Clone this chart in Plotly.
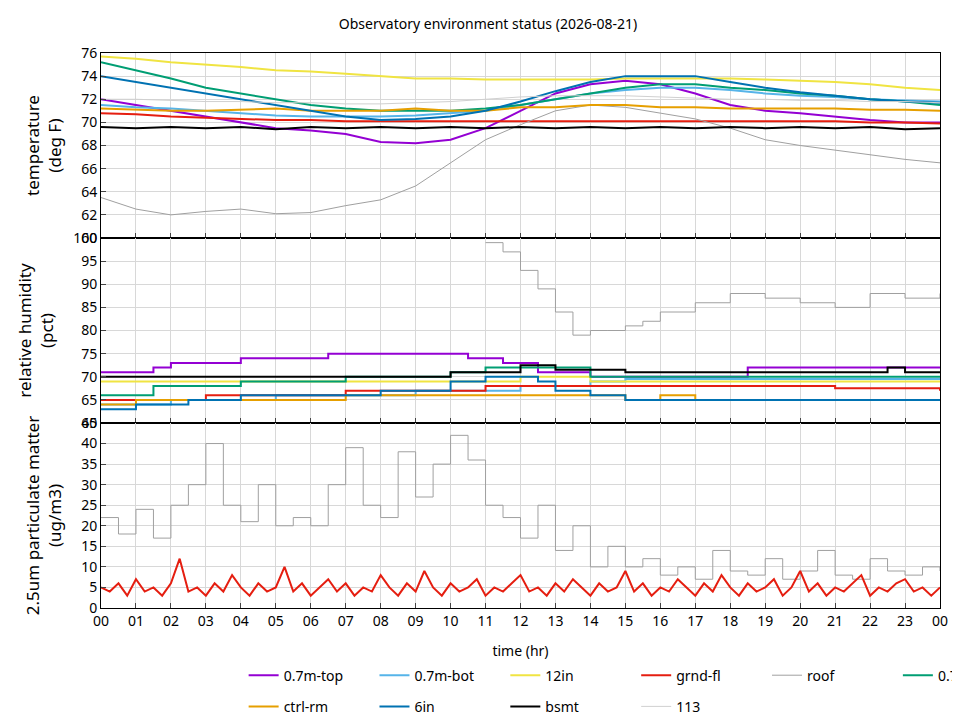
import plotly.graph_objects as go
from plotly.subplots import make_subplots

hours = list(range(25))
hours_half = [h * 0.5 for h in range(49)]
hours_q = [h * 0.25 for h in range(97)]

# temperature (deg F), hourly
t_top = [72, 71.5, 71, 70.5, 70, 69.5, 69.3, 69, 68.3, 68.2, 68.5, 69.5, 71, 72.5, 73.3, 73.6, 73.3, 72.5, 71.5, 71, 70.8, 70.5, 70.2, 70, 70]
t_mid = [75.2, 74.5, 73.8, 73, 72.5, 72, 71.5, 71.2, 71, 71, 71, 71.2, 71.5, 72, 72.5, 73, 73.3, 73.3, 73, 72.8, 72.5, 72.3, 72, 71.8, 71.5]
t_bot = [71.5, 71.3, 71.2, 71, 70.8, 70.6, 70.5, 70.5, 70.5, 70.6, 70.8, 71, 71.5, 72, 72.5, 72.8, 73, 73, 72.8, 72.5, 72.3, 72.2, 72, 71.9, 71.8]
t_ctrl = [71.2, 71.1, 71, 71, 71.1, 71.2, 71, 71, 71, 71.2, 71, 71, 71.3, 71.3, 71.5, 71.5, 71.3, 71.3, 71.2, 71.2, 71.2, 71.2, 71.1, 71.1, 71]
t_12in = [75.7, 75.5, 75.2, 75, 74.8, 74.5, 74.4, 74.2, 74, 73.8, 73.8, 73.7, 73.7, 73.7, 73.7, 73.8, 73.8, 73.8, 73.8, 73.7, 73.6, 73.5, 73.3, 73, 72.8]
t_6in = [74, 73.5, 73, 72.5, 72, 71.5, 71, 70.5, 70.2, 70.3, 70.5, 71, 71.8, 72.7, 73.5, 74, 74, 74, 73.5, 73, 72.6, 72.3, 72, 71.8, 71.7]
t_grnd = [70.8, 70.7, 70.5, 70.4, 70.3, 70.2, 70.2, 70.1, 70.1, 70.1, 70.1, 70.1, 70.1, 70.1, 70.1, 70.1, 70.1, 70.1, 70.1, 70.1, 70.1, 70.1, 70, 70, 69.9]
t_bsmt = [69.6, 69.5, 69.6, 69.5, 69.6, 69.4, 69.6, 69.5, 69.6, 69.5, 69.6, 69.5, 69.6, 69.5, 69.6, 69.5, 69.6, 69.5, 69.6, 69.5, 69.6, 69.5, 69.6, 69.4, 69.5]
t_roof = [63.5, 62.5, 62, 62.3, 62.5, 62.1, 62.2, 62.8, 63.3, 64.5, 66.5, 68.5, 69.8, 71, 71.5, 71.3, 70.8, 70.3, 69.5, 68.5, 68, 67.6, 67.2, 66.8, 66.5]
t_113 = [72, 72, 71.9, 71.8, 71.8, 71.7, 71.7, 71.6, 71.6, 71.7, 71.8, 72, 72.2, 72.3, 72.3, 72.3, 72.2, 72.1, 72, 72, 71.9, 71.9, 71.8, 71.8, 71.7]

# relative humidity (pct), step points
h_top_x = [0, 1.5, 2, 4, 6.5, 10.5, 11.5, 12.5, 14, 18.5, 24]
h_top = [71, 72, 73, 74, 75, 74, 73, 71, 70, 72, 72]
h_bsmt_x = [0, 10, 12, 13, 15, 22.5, 23, 24]
h_bsmt = [70, 71, 72.5, 71.5, 71, 72, 71, 71]
h_mid_x = [0, 1.5, 4, 7, 10, 11, 14, 24]
h_mid = [66, 68, 69, 70, 71, 72, 70, 70]
h_12in_x = [0, 12, 14, 24]
h_12in = [69, 70, 69, 69]
h_6in_x = [0, 1, 2.5, 4, 8, 10, 11, 12.5, 13, 14, 15, 24]
h_6in = [63, 64, 65, 66, 67, 69, 70, 69, 67, 66, 65, 65]
h_ctrl_x = [0, 1, 4, 7, 10, 15, 16, 17, 24]
h_ctrl = [64, 65, 65, 66, 66, 65, 66, 65, 65]
h_grnd_x = [0, 3, 7, 11, 16, 21, 24]
h_grnd = [65, 66, 67, 68, 68, 67.5, 67]
h_bot_x = [0, 2, 5, 9, 12, 14, 15, 24]
h_bot = [64, 65, 66, 67, 68, 69, 69.5, 69.5]
h_roof_x = [11, 11.5, 12, 12.5, 13, 13.5, 14, 14.5, 15, 15.5, 16, 17, 18, 19, 20, 21, 22, 23, 24]
h_roof = [99, 97, 93, 89, 84, 79, 80, 80, 81, 82, 84, 86, 88, 87, 86, 85, 88, 87, 88]

# 2.5um particulate matter (ug/m3)
pm_roof = [22, 18, 24, 17, 25, 30, 40, 25, 21, 30, 20, 22, 20, 30, 39, 25, 22, 38, 27, 35, 42, 36, 25, 22,
           17, 25, 14, 20, 10, 15, 10, 12, 8, 10, 7, 14, 9, 8, 12, 7, 9, 14, 8, 7, 12, 9, 8, 10, 9]
pm_grnd = [5, 4, 6, 3, 7, 4, 5, 3, 6, 12, 4, 5, 3, 6, 4, 8, 5, 3, 6, 4, 5, 10, 4, 6,
           3, 5, 7, 4, 6, 3, 5, 4, 8, 5, 3, 6, 4, 9, 5, 3, 6, 4, 5, 7, 3, 5, 4, 6,
           8, 4, 5, 3, 6, 4, 7, 5, 3, 6, 4, 5, 9, 4, 6, 3, 5, 4, 7, 5, 3, 6, 4, 8,
           5, 3, 6, 4, 5, 7, 3, 5, 9, 4, 6, 3, 5, 4, 6, 8, 3, 5, 4, 6, 7, 4, 5, 3, 5]

names = ["0.7m-top", "0.7m-bot", "12in", "grnd-fl", "roof", "0.7m-mid", "ctrl-rm", "6in", "bsmt", "113"]
colors = {"0.7m-top": "#9400d3", "0.7m-mid": "#009e73", "0.7m-bot": "#56b4e9", "ctrl-rm": "#e69f00",
          "12in": "#f0e442", "6in": "#0072b2", "grnd-fl": "#e51e10", "bsmt": "#000000",
          "roof": "#a0a0a0", "113": "#d0d0d0"}
widths = {"roof": 1, "113": 1}

temp = {"0.7m-top": t_top, "0.7m-mid": t_mid, "0.7m-bot": t_bot, "ctrl-rm": t_ctrl, "12in": t_12in,
        "6in": t_6in, "grnd-fl": t_grnd, "bsmt": t_bsmt, "roof": t_roof, "113": t_113}
hum = {"0.7m-top": (h_top_x, h_top), "0.7m-mid": (h_mid_x, h_mid), "0.7m-bot": (h_bot_x, h_bot),
       "ctrl-rm": (h_ctrl_x, h_ctrl), "12in": (h_12in_x, h_12in), "6in": (h_6in_x, h_6in),
       "grnd-fl": (h_grnd_x, h_grnd), "bsmt": (h_bsmt_x, h_bsmt), "roof": (h_roof_x, h_roof)}

fig = make_subplots(rows=3, cols=1, shared_xaxes=True, vertical_spacing=0)

for n in names:
    c = colors[n]
    w = widths.get(n, 2)
    fig.add_trace(go.Scatter(x=hours, y=temp[n], mode="lines", name=n, legendgroup=n,
                             line=dict(color=c, width=w)), row=1, col=1)
    if n in hum:
        hx, hy = hum[n]
        fig.add_trace(go.Scatter(x=hx, y=hy, mode="lines", name=n, legendgroup=n, showlegend=False,
                                 line=dict(color=c, width=w, shape="hv")), row=2, col=1)

fig.add_trace(go.Scatter(x=hours_half, y=pm_roof, mode="lines", showlegend=False, legendgroup="roof",
                         line=dict(color=colors["roof"], width=1, shape="hv")), row=3, col=1)
fig.add_trace(go.Scatter(x=hours_q, y=pm_grnd, mode="lines", showlegend=False, legendgroup="grnd-fl",
                         line=dict(color=colors["grnd-fl"], width=2)), row=3, col=1)

ax = dict(showline=True, linecolor="black", linewidth=1, mirror=True, ticks="inside", showgrid=True,
          gridcolor="#d8d8d8", zeroline=False, tickfont=dict(size=14))
fig.update_xaxes(**ax, range=[0, 24], dtick=1)
fig.update_xaxes(tickvals=hours, ticktext=[f"{h % 24:02d}" for h in hours], row=3, col=1,
                 title=dict(text="time (hr)", font=dict(size=14), standoff=18))
fig.update_yaxes(**ax)
fig.update_yaxes(range=[60, 76], dtick=2, title_text="temperature<br>(deg F)", row=1, col=1)
fig.update_yaxes(range=[60, 100], dtick=5, title_text="relative humidity<br>(pct)", row=2, col=1)
fig.update_yaxes(range=[0, 45], dtick=5, title_text="2.5um particulate matter<br>(ug/m3)", row=3, col=1)

fig.update_layout(
    width=960, height=720,
    title=dict(text="Observatory environment status (2026-08-21)", x=0.5, y=0.985, font=dict(size=14)),
    font=dict(family="Noto Sans", size=14, color="black"),
    plot_bgcolor="white", paper_bgcolor="white",
    margin=dict(l=93, r=28, t=45, b=120, autoexpand=False),
    legend=dict(orientation="h", x=0.17, xanchor="left", yref="container", y=0.095, yanchor="top",
                entrywidthmode="fraction", entrywidth=0.15, font=dict(size=14)),
)

fig.write_html("out.html")
